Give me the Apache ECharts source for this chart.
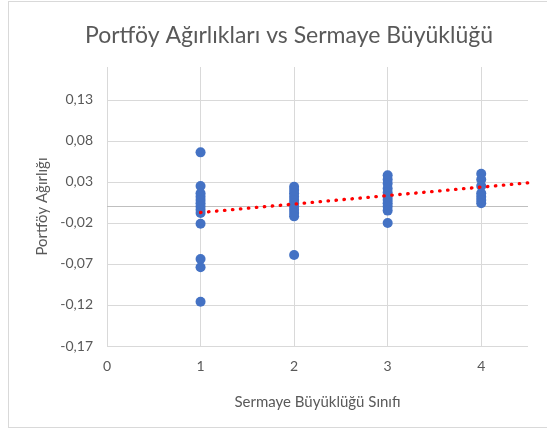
<!DOCTYPE html>
<html>
<head>
<meta charset="utf-8">
<script src="https://cdn.jsdelivr.net/npm/echarts@6/dist/echarts.min.js"></script>
<style>
  html, body { margin: 0; padding: 0; background: #fff; }
  #frame { position: absolute; left: 8px; top: 1px; width: 560px; height: 425px; border: 1px solid #d9d9d9; }
  #main { position: absolute; left: 0; top: 0; width: 547px; height: 430px; }
</style>
</head>
<body>
<div id="frame"></div>
<div id="main"></div>
<script>
// sermaye büyüklüğü sınıfı 1..4, her sınıf için portföy ağırlıkları
var class1 = [0.066, 0.025, 0.016, 0.012, 0.008, 0.004, 0.0, -0.004, -0.008, -0.021, -0.064, -0.074, -0.116];
var class2 = [0.024, 0.020, 0.016, 0.012, 0.008, 0.004, 0.0, -0.004, -0.008, -0.012, -0.059];
var class3 = [0.038, 0.033, 0.028, 0.022, 0.017, 0.012, 0.008, 0.004, 0.0, -0.005, -0.020];
var class4 = [0.040, 0.033, 0.025, 0.016, 0.012, 0.008, 0.004];
// doğrusal eğilim çizgisi (başlangıç ve bitiş)
var trendX = [1, 4.5];
var trendY = [-0.0073, 0.0288];
// ızgara çizgileri
var xTicks = [0, 1, 2, 3, 4];
var yTicks = [-0.17, -0.12, -0.07, -0.02, 0.03, 0.08, 0.13];

var points = [];
[class1, class2, class3, class4].forEach(function (arr, i) {
    arr.forEach(function (v) { points.push([i + 1, v]); });
});
var trend = trendX.map(function (x, i) { return [x, trendY[i]]; });

var grid = [];
xTicks.forEach(function (v) { grid.push({ xAxis: v }); });
yTicks.forEach(function (v) { grid.push({ yAxis: v }); });
// sıfır çizgisi biraz daha koyu
grid.push({ yAxis: 0, lineStyle: { color: '#bfbfbf' } });

var txt = '#595959';
var font = 'Lato, "Open Sans", sans-serif';

var myChart = echarts.init(document.getElementById('main'));
myChart.setOption({
    animation: false,
    title: {
        text: 'Portföy Ağırlıkları vs Sermaye Büyüklüğü',
        left: 284, top: 19, textAlign: 'center',
        textStyle: { color: txt, fontSize: 23, fontWeight: 'normal', fontFamily: font }
    },
    grid: { left: 107, right: 19, top: 67, bottom: 84 },
    xAxis: {
        type: 'value', min: 0, max: 4.5, interval: 1,
        name: 'Sermaye Büyüklüğü Sınıfı', nameLocation: 'middle', nameGap: 49,
        nameTextStyle: { color: txt, fontSize: 15, fontFamily: font },
        axisLine: { show: false }, axisTick: { show: false },
        axisLabel: {
            color: txt, fontSize: 14, fontFamily: font, margin: 13,
            formatter: function (v) { return Math.abs(v - Math.round(v)) < 1e-9 ? String(Math.round(v)) : ''; }
        },
        splitLine: { show: false }
    },
    yAxis: {
        type: 'value', min: -0.17, max: 0.17, interval: 0.05,
        name: 'Portföy Ağırlığı', nameLocation: 'middle', nameGap: 56,
        nameTextStyle: { color: txt, fontSize: 15, fontFamily: font },
        axisLine: { show: false }, axisTick: { show: false },
        axisLabel: {
            color: txt, fontSize: 14, fontFamily: font, margin: 14, showMaxLabel: false,
            formatter: function (v) { return v.toFixed(2).replace('.', ','); }
        },
        splitLine: { show: false }
    },
    series: [
        {
            type: 'scatter', data: [], silent: true, z: 0,
            markLine: {
                silent: true, symbol: 'none', label: { show: false }, z: 0,
                lineStyle: { color: '#d9d9d9', width: 1, type: 'solid' },
                data: grid
            }
        },
        {
            type: 'scatter', data: points, symbolSize: 10,
            itemStyle: { color: '#4472c4', opacity: 1 },
            z: 3
        },
        {
            type: 'line', data: trend, showSymbol: false,
            lineStyle: { color: '#ff0000', width: 3.3, type: [0.5, 7.5], cap: 'round' },
            z: 4
        }
    ]
});
</script>
</body>
</html>
